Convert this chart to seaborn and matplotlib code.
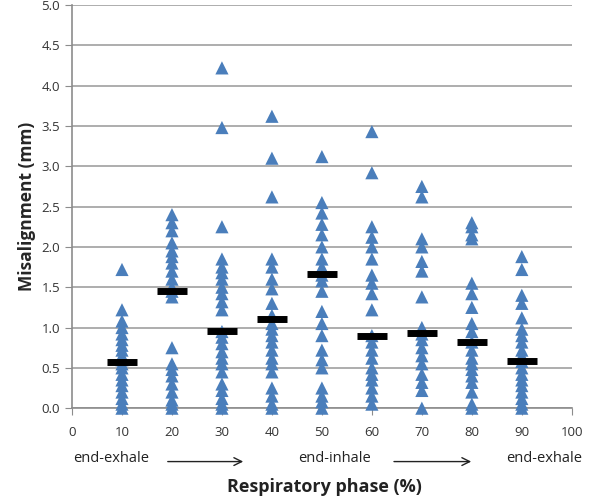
import numpy as np
import pandas as pd
import seaborn as sns
import matplotlib
matplotlib.use("Agg")
import matplotlib.pyplot as plt

phases = [10, 20, 30, 40, 50, 60, 70, 80, 90]
p10 = [1.72, 1.22, 1.08, 1.0, 0.92, 0.85, 0.78, 0.72, 0.65, 0.6, 0.55, 0.5, 0.42, 0.35, 0.28, 0.2, 0.12, 0.05, 0.0]
p20 = [2.4, 2.3, 2.2, 2.05, 1.95, 1.88, 1.8, 1.7, 1.6, 1.5, 1.45, 1.38, 0.75, 0.55, 0.48, 0.4, 0.3, 0.2, 0.1, 0.05, 0.0]
p30 = [4.22, 3.48, 2.25, 1.85, 1.75, 1.68, 1.6, 1.5, 1.42, 1.32, 1.22, 0.95, 0.88, 0.8, 0.7, 0.62, 0.55, 0.45, 0.3, 0.22, 0.12, 0.05, 0.0]
p40 = [3.62, 3.1, 2.62, 1.85, 1.75, 1.6, 1.48, 1.3, 1.15, 1.05, 0.98, 0.9, 0.82, 0.72, 0.62, 0.55, 0.45, 0.25, 0.15, 0.05, 0.0]
p50 = [3.12, 2.55, 2.42, 2.28, 2.15, 2.0, 1.85, 1.75, 1.65, 1.58, 1.45, 1.2, 1.05, 0.9, 0.72, 0.6, 0.5, 0.25, 0.15, 0.08, 0.0]
p60 = [3.43, 2.92, 2.25, 2.12, 2.0, 1.85, 1.65, 1.55, 1.42, 1.22, 0.9, 0.82, 0.72, 0.62, 0.5, 0.42, 0.35, 0.25, 0.15, 0.05]
p70 = [2.75, 2.62, 2.1, 2.0, 1.82, 1.7, 1.38, 1.0, 0.92, 0.85, 0.75, 0.65, 0.55, 0.42, 0.32, 0.22, 0.0]
p80 = [2.3, 2.25, 2.15, 2.1, 1.55, 1.42, 1.25, 1.05, 0.95, 0.82, 0.72, 0.62, 0.55, 0.48, 0.4, 0.32, 0.2, 0.05, 0.0]
p90 = [1.88, 1.72, 1.4, 1.3, 1.12, 0.98, 0.9, 0.82, 0.72, 0.65, 0.58, 0.5, 0.42, 0.35, 0.28, 0.2, 0.12, 0.05, 0.0]
medians = [0.57, 1.45, 0.96, 1.10, 1.67, 0.90, 0.93, 0.82, 0.58]
xticks = list(range(0, 101, 10))
yticks = [i * 0.5 for i in range(11)]

series = [p10, p20, p30, p40, p50, p60, p70, p80, p90]
df = pd.DataFrame({
    "phase": [ph for ph, s in zip(phases, series) for _ in s],
    "mis": [v for s in series for v in s],
})

sns.set_style("white")
plt.rcParams["font.family"] = ["Open Sans", "DejaVu Sans"]

fig = plt.figure(figsize=(6.0, 4.99), dpi=100)
ax = fig.add_axes([0.12, 0.182, 0.833, 0.808])

sns.scatterplot(data=df, x="phase", y="mis", marker="^", s=90,
                color="#4a7ebb", edgecolor="none", ax=ax, zorder=3, clip_on=False)
ph = np.array(phases, dtype=float)
ax.hlines(medians, ph - 3.0, ph + 3.0, colors="black", lw=5, zorder=4)

ax.set_xlim(0, 100)
ax.set_ylim(0, 5)
ax.set_xticks(xticks)
ax.set_yticks(yticks)
ax.set_yticklabels([f"{v:.1f}" for v in yticks])
ax.yaxis.grid(True, color="#a0a0a0", lw=1.2)
ax.set_axisbelow(True)
for s in ["top", "right"]:
    ax.spines[s].set_visible(False)
for s in ["left", "bottom"]:
    ax.spines[s].set_color("#8c8c8c")
    ax.spines[s].set_linewidth(1.2)
ax.tick_params(axis="both", which="major", direction="out", length=5,
               color="#8c8c8c", labelsize=9.5, labelcolor="#333333", left=True, bottom=True)
ax.tick_params(axis="x", pad=8)

ax.set_ylabel("Misalignment (mm)", fontsize=12.5, fontweight="bold")
ax.set_xlabel("")

fig.text(0.185, 0.082, "end-exhale", ha="center", va="center", fontsize=10.5, color="#222222")
fig.text(0.558, 0.082, "end-inhale", ha="center", va="center", fontsize=10.5, color="#222222")
fig.text(0.907, 0.082, "end-exhale", ha="center", va="center", fontsize=10.5, color="#222222")
for x0, x1 in [(0.275, 0.41), (0.652, 0.79)]:
    fig.add_artist(matplotlib.patches.FancyArrowPatch((x0, 0.075), (x1, 0.075),
                   transform=fig.transFigure, arrowstyle="->", mutation_scale=14,
                   color="#222222", lw=1.0))
fig.text(0.54, 0.025, "Respiratory phase (%)", ha="center", va="center",
         fontsize=13, fontweight="bold", color="#222222")

fig.savefig("out.png", dpi=100)
